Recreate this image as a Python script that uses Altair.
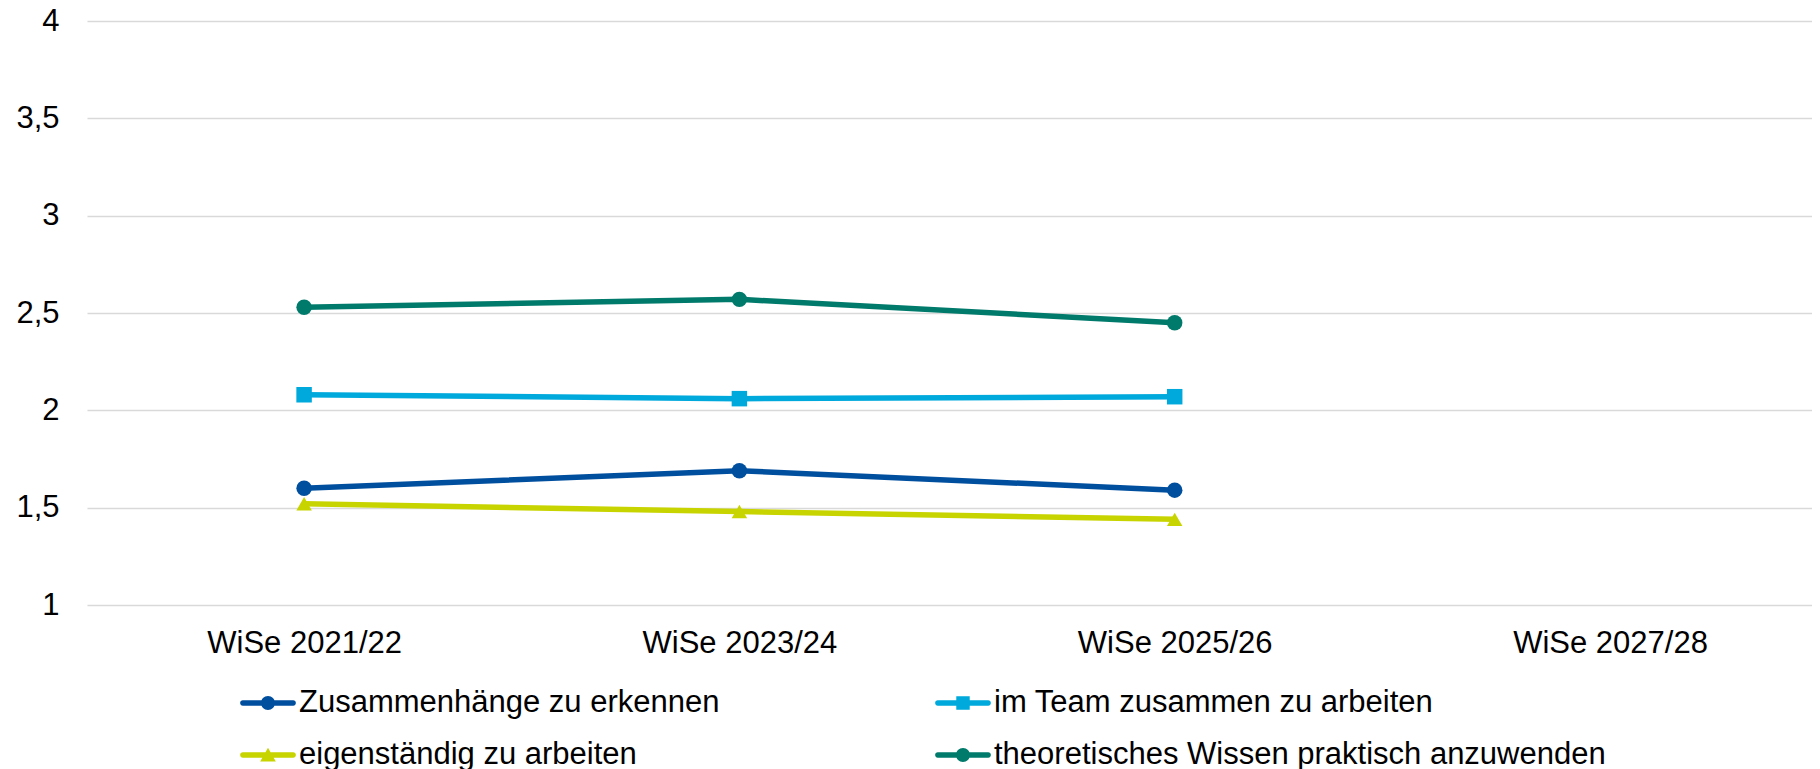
import altair as alt
import pandas as pd

# ---- data ----
semesters = ["WiSe 2021/22", "WiSe 2023/24", "WiSe 2025/26", "WiSe 2027/28"]
series_names = [
    "Zusammenhänge zu erkennen",
    "im Team zusammen zu arbeiten",
    "eigenständig zu arbeiten",
    "theoretisches Wissen praktisch anzuwenden",
]
zusammenhaenge = [1.60, 1.69, 1.59]
im_team = [2.08, 2.06, 2.07]
eigenstaendig = [1.52, 1.48, 1.44]
theoretisch = [2.53, 2.57, 2.45]
y_ticks = [1, 1.5, 2, 2.5, 3, 3.5, 4]

# ---- styles ----
colors = ["#004f9f", "#00a9dc", "#c8d400", "#007a6b"]
marker_shapes = ["circle", "square", "triangle-up", "circle"]
_bar = "M-0.9,-0.095H0.9A0.095,0.095,0,0,1,0.9,0.095H-0.9A0.095,0.095,0,0,1,-0.9,-0.095Z"
legend_symbols = [
    _bar + " M0.25,0A0.25,0.25,0,1,1,-0.25,0A0.25,0.25,0,1,1,0.25,0Z",
    _bar + " M-0.24,-0.24H0.24V0.24H-0.24Z",
    _bar + " M0,-0.26L0.28,0.23L-0.28,0.23Z",
    _bar + " M0.25,0A0.25,0.25,0,1,1,-0.25,0A0.25,0.25,0,1,1,0.25,0Z",
]
FONT = "Liberation Sans"
FS = 31

rows = []
for name, vals in zip(series_names, [zusammenhaenge, im_team, eigenstaendig, theoretisch]):
    for sem, v in zip(semesters, vals):
        rows.append({"semester": sem, "value": v, "series": name, "Legende": name})
df = pd.DataFrame(rows)

x_enc = alt.X(
    "semester:N",
    scale=alt.Scale(type="point", domain=semesters, padding=0.4814, align=0.518),
    axis=alt.Axis(title=None, labelAngle=0, domain=False, ticks=False, grid=False,
                  labelPadding=23, labelFontSize=FS, labelFont=FONT, labelColor="black",
                  labelLimit=1000),
)
y_enc = alt.Y(
    "value:Q",
    scale=alt.Scale(domain=[1, 4], nice=False, zero=False),
    axis=alt.Axis(title=None, values=y_ticks,
                  labelExpr="replace(format(datum.value, '.1~f'), '.', ',')",
                  grid=True, gridColor="#d9d9d9", gridWidth=1.5,
                  domain=False, ticks=False, labelPadding=28,
                  labelFontSize=FS, labelFont=FONT, labelColor="black"),
)

base = alt.Chart(df)

lines = base.mark_line(strokeWidth=5.5).encode(
    x=x_enc, y=y_enc,
    color=alt.Color("series:N", scale=alt.Scale(domain=series_names, range=colors), legend=None),
)

points = base.mark_point(filled=True, size=240, opacity=1).encode(
    x=x_enc, y=y_enc,
    color=alt.Color("series:N", scale=alt.Scale(domain=series_names, range=colors), legend=None),
    shape=alt.Shape("series:N", scale=alt.Scale(domain=series_names, range=marker_shapes), legend=None),
)

leg = alt.Legend(
    title=None, orient="none", legendX=153, legendY=654, columns=2,
    direction="horizontal",
    columnPadding=215, rowPadding=9, labelFont=FONT, labelFontSize=FS,
    labelColor="black", labelLimit=1000, labelOffset=3, symbolSize=3136,
    padding=0, symbolStrokeWidth=0, symbolOpacity=1,
)

legend_layer = base.transform_filter("datum.value < 0").mark_point(
    filled=True, size=3136, opacity=1
).encode(
    x=x_enc, y=y_enc,
    color=alt.Color("Legende:N", scale=alt.Scale(domain=series_names, range=colors), legend=leg),
    shape=alt.Shape("Legende:N", scale=alt.Scale(domain=series_names, range=legend_symbols), legend=leg),
)

chart = (
    alt.layer(lines, points, legend_layer)
    .resolve_scale(color="independent", shape="independent")
    .properties(
        width=1725, height=584,
        padding={"left": 79, "top": 13, "right": 0, "bottom": 164},
        autosize=alt.AutoSizeParams(type="none"),
        background="white",
    )
    .configure_view(stroke=None)
)

chart.save("out.html", embed_options={"renderer": "svg", "actions": False})
